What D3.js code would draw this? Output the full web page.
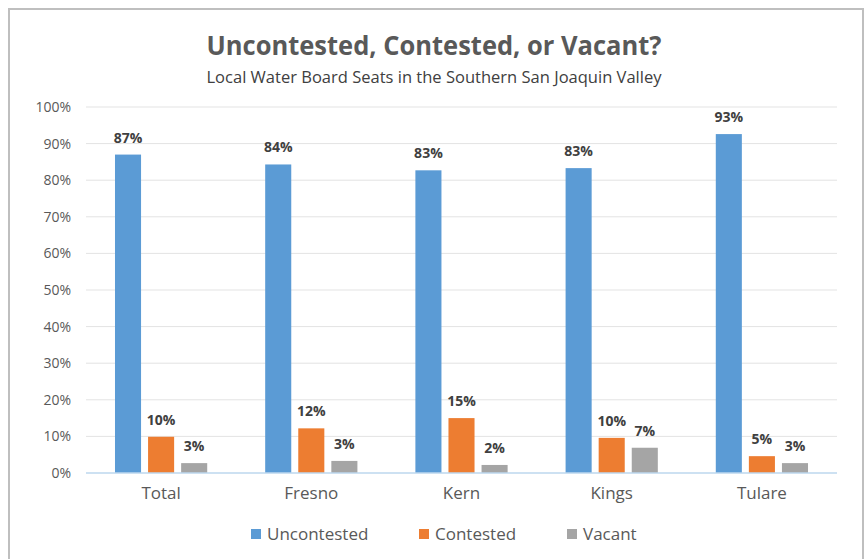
<!DOCTYPE html>
<html><head><meta charset="utf-8">
<script src="https://cdn.jsdelivr.net/npm/d3@7"></script>
<style>
html,body{margin:0;padding:0;background:#fff;}
svg{display:block;font-family:"Open Sans","Liberation Sans",sans-serif;}
</style></head>
<body>
<svg id="chart" width="866" height="559"></svg>
<script>
const categories = ["Total","Fresno","Kern","Kings","Tulare"];
const seriesNames = ["Uncontested","Contested","Vacant"];
const uncontested = [87.0, 84.3, 82.7, 83.3, 92.6];
const contested = [9.9, 12.2, 15.0, 9.6, 4.6];
const vacant = [2.7, 3.3, 2.2, 6.9, 2.7];
const yTicks = [0,10,20,30,40,50,60,70,80,90,100];
const colors = ["#5B9BD5","#ED7D31","#A5A5A5"];

const seriesValues = [uncontested, contested, vacant];
const svg = d3.select("#chart");
const W = 866, H = 559;
const m = {left:86, right:29, top:107, bottom:86};
const plotW = W - m.left - m.right, plotH = H - m.top - m.bottom;

// frame
svg.append("rect").attr("x",9).attr("y",9).attr("width",854).attr("height",560)
  .attr("fill","#fff").attr("stroke","#bfbfbf").attr("stroke-width",2);

// titles
svg.append("text").attr("x",434).attr("y",55).attr("text-anchor","middle")
  .attr("font-size",27).attr("font-weight",700).attr("fill","#595959")
  .attr("textLength",455).attr("lengthAdjust","spacingAndGlyphs")
  .text("Uncontested, Contested, or Vacant?");
svg.append("text").attr("x",434).attr("y",83).attr("text-anchor","middle")
  .attr("font-size",16).attr("fill","#404040")
  .attr("textLength",455).attr("lengthAdjust","spacingAndGlyphs")
  .text("Local Water Board Seats in the Southern San Joaquin Valley");

const g = svg.append("g").attr("transform",`translate(${m.left},${m.top})`);

const x0 = d3.scaleBand().domain(categories).range([0,plotW]).paddingInner(0.386).paddingOuter(0.193);
const x1 = d3.scaleBand().domain(seriesNames).range([0,x0.bandwidth()]).paddingInner(0.212).paddingOuter(0);
const y = d3.scaleLinear().domain([0,100]).range([plotH,0]);

// gridlines
g.append("g").selectAll("line").data(yTicks.filter(d=>d>0)).join("line")
  .attr("x1",0).attr("x2",plotW).attr("y1",d=>y(d)).attr("y2",d=>y(d))
  .attr("stroke","#e3e3e3").attr("stroke-width",1);

// y axis labels
const yAxis = d3.axisLeft(y).tickValues(yTicks).tickFormat(d=>d+"%").tickSize(0).tickPadding(15);
const ya = g.append("g").call(yAxis);
ya.select(".domain").remove();
ya.selectAll("text").attr("font-size",14).attr("fill","#595959").attr("font-family","'Open Sans',sans-serif");

// bars
const rows = categories.map((c,i)=>({cat:c, vals:seriesNames.map((s,j)=>({s, j, v:seriesValues[j][i]}))}));
const grp = g.selectAll(".grp").data(rows).join("g").attr("transform",d=>`translate(${x0(d.cat)},0)`);
grp.selectAll("rect").data(d=>d.vals).join("rect")
  .attr("x",d=>x1(d.s)).attr("width",x1.bandwidth())
  .attr("y",d=>y(d.v)).attr("height",d=>plotH-y(d.v))
  .attr("fill",d=>colors[d.j]);
grp.selectAll("text").data(d=>d.vals).join("text")
  .attr("x",d=>x1(d.s)+x1.bandwidth()/2).attr("y",d=>y(d.v)-12)
  .attr("text-anchor","middle").attr("font-size",14).attr("font-weight",700)
  .attr("fill","#404040").text(d=>Math.round(d.v)+"%");

// x axis baseline
g.append("line").attr("x1",0).attr("x2",plotW).attr("y1",plotH).attr("y2",plotH)
  .attr("stroke","#bdd7ee").attr("stroke-width",1.5);
const xAxis = d3.axisBottom(x0).tickSize(0).tickPadding(14);
const xa = g.append("g").attr("transform",`translate(0,${plotH})`).call(xAxis);
xa.select(".domain").remove();
xa.selectAll("text").attr("font-size",17).attr("fill","#595959").attr("font-family","'Open Sans',sans-serif");

// legend
const legX = [251, 419, 567];
const leg = svg.append("g").selectAll("g").data(seriesNames).join("g")
  .attr("transform",(d,i)=>`translate(${legX[i]},534)`);
leg.append("rect").attr("x",0).attr("y",-5).attr("width",10).attr("height",10).attr("fill",(d,i)=>colors[i]);
leg.append("text").attr("x",16).attr("y",6).attr("font-size",17).attr("fill","#595959").text(d=>d);
</script>
</body></html>
